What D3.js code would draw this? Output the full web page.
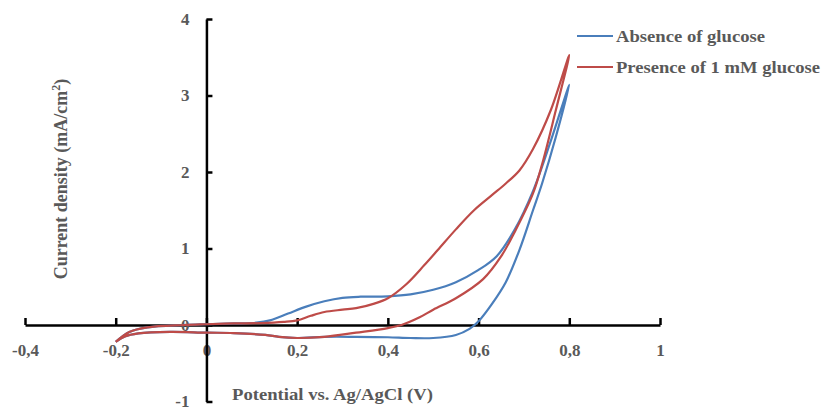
<!DOCTYPE html>
<html>
<head>
<meta charset="utf-8">
<script src="https://cdn.jsdelivr.net/npm/d3@7"></script>
<style>
  html, body { margin: 0; padding: 0; background: #ffffff; }
  svg { display: block; }
  text { font-family: "Liberation Serif", "Times New Roman", serif; font-weight: bold; fill: #595959; }
</style>
</head>
<body>
<svg id="chart" width="822" height="407"></svg>
<script>
// ---- Data ----
const xTickValues = [-0.4, -0.2, 0, 0.2, 0.4, 0.6, 0.8, 1];
const xTickLabels = ["-0,4", "-0,2", "0", "0,2", "0,4", "0,6", "0,8", "1"];
const yTickValues = [-1, 0, 1, 2, 3, 4];
const yTickLabels = ["-1", "0", "1", "2", "3", "4"];
const seriesNames = ["Absence of glucose", "Presence of 1 mM glucose"];

// Absence of glucose: potential (V), current density (mA/cm2)
const absencePotential = [-0.2, -0.17, -0.13, -0.05, 0, 0.06, 0.11, 0.14, 0.18, 0.22, 0.26, 0.3, 0.34, 0.4, 0.45, 0.5, 0.55, 0.6, 0.64, 0.68, 0.72, 0.76, 0.8,
  0.77, 0.74, 0.72, 0.69, 0.66, 0.63, 0.6, 0.58, 0.55, 0.5, 0.45, 0.4, 0.33, 0.26, 0.2, 0.16, 0.13, 0.06, 0, -0.08, -0.15, -0.18, -0.2];
const absenceCurrent = [-0.22, -0.09, -0.03, 0.0, 0.01, 0.02, 0.03, 0.06, 0.15, 0.24, 0.31, 0.355, 0.37, 0.375, 0.4, 0.46, 0.56, 0.72, 0.9, 1.25, 1.75, 2.42, 3.14,
  2.45, 1.85, 1.5, 0.98, 0.56, 0.28, 0.05, -0.05, -0.13, -0.17, -0.17, -0.16, -0.155, -0.155, -0.17, -0.155, -0.13, -0.105, -0.1, -0.09, -0.11, -0.15, -0.22];

// Presence of 1 mM glucose
const presencePotential = [-0.2, -0.17, -0.13, -0.05, 0, 0.06, 0.12, 0.17, 0.2, 0.23, 0.26, 0.3, 0.33, 0.37, 0.4, 0.44, 0.48, 0.51, 0.55, 0.59, 0.63, 0.66, 0.69, 0.72, 0.76, 0.8,
  0.77, 0.74, 0.72, 0.68, 0.65, 0.61, 0.55, 0.5, 0.47, 0.43, 0.4, 0.33, 0.26, 0.2, 0.16, 0.13, 0.06, 0, -0.08, -0.15, -0.18, -0.2];
const presenceCurrent = [-0.22, -0.09, -0.03, 0.0, 0.01, 0.02, 0.025, 0.04, 0.06, 0.12, 0.17, 0.2, 0.22, 0.28, 0.35, 0.53, 0.78, 0.98, 1.25, 1.5, 1.7, 1.85, 2.02, 2.3, 2.82, 3.53,
  2.8, 2.1, 1.72, 1.22, 0.9, 0.6, 0.35, 0.2, 0.1, 0.0, -0.04, -0.1, -0.155, -0.17, -0.155, -0.13, -0.105, -0.1, -0.09, -0.11, -0.15, -0.22];

const seriesColors = ["#4A7EBB", "#BE4B48"];

// ---- Chart ----
const svg = d3.select("#chart");
const x = d3.scaleLinear().domain([-0.4, 1]).range([25, 660]);
const y = d3.scaleLinear().domain([-1, 4]).range([401.5, 19]);

const series = [
  { name: seriesNames[0], color: seriesColors[0], pts: absencePotential.map((p, i) => [p, absenceCurrent[i]]) },
  { name: seriesNames[1], color: seriesColors[1], pts: presencePotential.map((p, i) => [p, presenceCurrent[i]]) }
];

const line = d3.line()
  .x(d => x(d[0]))
  .y(d => y(d[1]))
  .curve(d3.curveCatmullRom.alpha(0.5));

// Axes
const xAxis = d3.axisBottom(x)
  .tickValues(xTickValues)
  .tickFormat((d, i) => xTickLabels[i])
  .tickSizeInner(-7)
  .tickSizeOuter(0)
  .tickPadding(19);

const yAxis = d3.axisLeft(y)
  .tickValues(yTickValues)
  .tickFormat((d, i) => yTickLabels[i])
  .tickSizeInner(-6)
  .tickSizeOuter(0)
  .tickPadding(17);

const gx = svg.append("g").attr("transform", `translate(0,${y(0)})`).call(xAxis);
const gy = svg.append("g").attr("transform", `translate(${x(0)},0)`).call(yAxis);

[gx, gy].forEach(g => {
  g.select(".domain").attr("stroke", "#000").attr("stroke-width", 2.5);
  g.selectAll(".tick line").attr("stroke", "#000").attr("stroke-width", 2.5);
  g.selectAll(".tick text")
    .style("font-family", '"Liberation Serif", "Times New Roman", serif')
    .style("font-weight", "bold")
    .style("font-size", "17px")
    .attr("fill", "#595959");
});

// Series lines
svg.append("g").selectAll("path.series")
  .data(series)
  .join("path")
  .attr("class", "series")
  .attr("d", d => line(d.pts))
  .attr("fill", "none")
  .attr("stroke", d => d.color)
  .attr("stroke-width", 2.2)
  .attr("stroke-linejoin", "round");

// Axis titles
svg.append("text")
  .attr("x", 232)
  .attr("y", 400)
  .attr("textLength", 201)
  .attr("lengthAdjust", "spacingAndGlyphs")
  .style("font-size", "16px")
  .text("Potential vs. Ag/AgCl (V)");

const yt = svg.append("text")
  .attr("transform", "translate(67,179) rotate(-90)")
  .attr("text-anchor", "middle")
  .style("font-size", "18px");
yt.append("tspan").text("Current density (mA/cm");
yt.append("tspan").attr("dy", -7).style("font-size", "12px").text("2");
yt.append("tspan").attr("dy", 7).text(")");

// Legend
const legend = svg.append("g");
const legendY = [36, 67];
const legendW = [149, 204];
series.forEach((s, i) => {
  legend.append("line")
    .attr("x1", 577).attr("x2", 613)
    .attr("y1", legendY[i]).attr("y2", legendY[i])
    .attr("stroke", s.color).attr("stroke-width", 2.2);
  legend.append("text")
    .attr("x", 616).attr("y", legendY[i]).attr("dy", "0.35em")
    .attr("textLength", legendW[i])
    .attr("lengthAdjust", "spacingAndGlyphs")
    .style("font-size", "16px")
    .text(s.name);
});
</script>
</body>
</html>
